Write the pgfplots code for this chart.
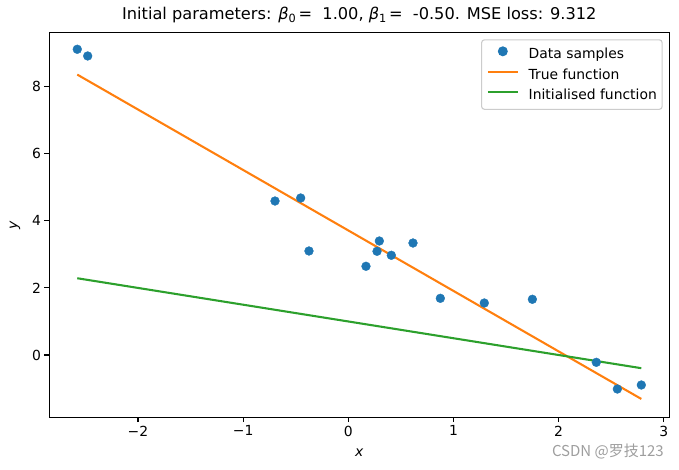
\documentclass[border=0pt]{standalone}
\usepackage{pgfplots}
\pgfplotsset{compat=1.18}
\usepackage{fontspec}
\setmainfont{DejaVu Sans}
\newfontfamily\cjk{Noto Sans CJK SC}
\definecolor{c0}{HTML}{1F77B4}
\definecolor{c1}{HTML}{FF7F0E}
\definecolor{c2}{HTML}{2CA02C}
\newcommand{\bsub}[1]{\raisebox{-0.22em}{\fontsize{11.3}{12}\selectfont #1}}
\begin{document}
\begin{tikzpicture}
\useasboundingbox (-49.3pt,-52.7pt) rectangle (629.7pt,417.3pt);
\begin{axis}[
  scale only axis, width=620pt, height=384.6pt,
  at={(0pt,0pt)}, anchor=south west,
  xmin=-2.843, xmax=3.052, ymin=-1.857, ymax=9.609,
  axis line style={line width=1.11pt},
  tick align=outside, major tick length=4.9pt,
  xtick pos=lower, ytick pos=left,
  tick style={line width=1.11pt, black},
  xtick={-2,-1,0,1,2,3}, xticklabels={−2,−1,0,1,2,3},
  ytick={0,2,4,6,8}, yticklabels={0,2,4,6,8},
  /pgf/number format/assume math mode=true,
  tick label style={font=\fontsize{13.9}{16}\selectfont},
  xlabel={\itshape x}, ylabel={\itshape y},
  label style={font=\fontsize{13.9}{16}\selectfont},
  xlabel style={at={(axis description cs:0.5,-0.0928)}, anchor=center, inner sep=0pt},
  ylabel style={at={(axis description cs:-0.0553,0.5)}, anchor=center, inner sep=0pt},
  title={Initial parameters: {\itshape β}\bsub{0}\,=\ \ 1.00, {\itshape β}\bsub{1}\,=\ \ -0.50. MSE loss: 9.312},
  title style={at={(axis description cs:0.5,1)}, anchor=base, yshift=7.7pt, inner sep=0pt, font=\fontsize{16.2}{20}\selectfont},
  legend cell align=left,
  legend style={at={(axis description cs:1,1)}, anchor=north east, xshift=-6.6pt, yshift=-6.6pt,
    draw=black!20, rounded corners=2.8pt, line width=1.11pt,
    font=\fontsize{13.9}{16}\selectfont,
    inner xsep=5.3pt, inner ysep=6.5pt, row sep=6.5pt, column sep=10pt,
    nodes={inner sep=0pt, text height=10.5pt, text depth=3.3pt}},
]
\addplot[only marks, mark=*, mark size=4.4pt, c0, mark options={draw=c0, fill=c0},
  legend image code/.code={\fill[c0] (14.85pt,4pt) circle (4.4pt);}]
  coordinates {
  (-2.577,9.115) (-2.478,8.915) (-0.697,4.591) (-0.453,4.681) (-0.374,3.101)
  (0.168,2.645) (0.273,3.092) (0.295,3.399) (0.409,2.973) (0.615,3.339)
  (0.875,1.690) (1.293,1.550) (1.750,1.661) (2.358,-0.218) (2.558,-1.014) (2.786,-0.894)
  };
\addlegendentry{Data samples}
\addplot[c1, line width=2.08pt,
  legend image code/.code={\draw[c1, line width=2.08pt] (0pt,4pt) -- (29.7pt,4pt);}]
  coordinates {(-2.577,8.36) (2.786,-1.31)};
\addlegendentry{True function}
\addplot[c2, line width=2.08pt,
  legend image code/.code={\draw[c2, line width=2.08pt] (0pt,4pt) -- (29.7pt,4pt);}]
  coordinates {(-2.577,2.2885) (2.786,-0.393)};
\addlegendentry{Initialised function}
\end{axis}
\node[anchor=east, inner sep=0pt, text=black!38, font=\cjk\fontsize{15}{17}\selectfont] at (614.7pt,-34.4pt) {CSDN @罗技123};
\end{tikzpicture}
\end{document}
